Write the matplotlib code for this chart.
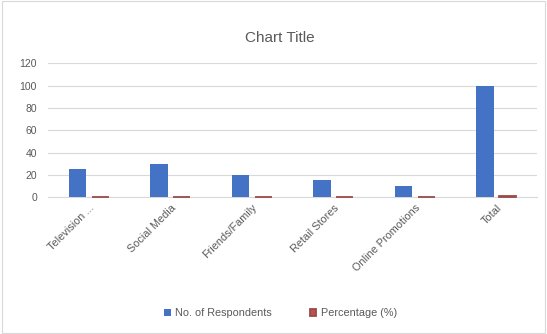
import matplotlib
matplotlib.use("Agg")
import matplotlib.pyplot as plt
import numpy as np

categories = ["Television ...", "Social Media", "Friends/Family", "Retail Stores",
              "Online Promotions", "Total"]
respondents = [25, 30, 20, 15, 10, 100]
percentage = [0.25, 0.30, 0.20, 0.15, 0.10, 1.00]
y_ticks = [0, 20, 40, 60, 80, 100, 120]

blue = "#4472C4"
red = "#C0504D"
text_gray = "#595959"

plt.rcParams["font.family"] = ["Liberation Sans", "DejaVu Sans"]

fig = plt.figure(figsize=(5.47, 3.34), dpi=100)
fig.patch.set_facecolor("white")
# thin grey frame round the chart area
fig.add_artist(plt.Rectangle((0.004, 0.004), 0.992, 0.992, transform=fig.transFigure,
                             fill=False, edgecolor="#D9D9D9", linewidth=0.8))

ax = fig.add_axes([0.088, 0.41, 0.894, 0.40])
x = np.arange(len(categories))
w = 0.21
ax.bar(x - 0.14, respondents, width=w, color=blue, label="No. of Respondents", zorder=3)
# percentages are tiny on this scale; a stroke keeps them visible as thin bars
ax.bar(x + 0.14, percentage, width=w, color=red, edgecolor="#9A4A47", linewidth=1.3,
       label="Percentage (%)", zorder=4, clip_on=False)

ax.set_xlim(-0.5, len(categories) - 0.5)
ax.set_ylim(0, 120)
ax.set_yticks(y_ticks)
ax.set_yticklabels([str(v) for v in y_ticks], color=text_gray, fontsize=7.5)
ax.yaxis.grid(True, color="#D9D9D9", linewidth=0.8, zorder=0)
ax.tick_params(axis="both", length=0, pad=8)
ax.set_xticks(x)
ax.set_xticklabels(categories, rotation=45, ha="right", rotation_mode="anchor",
                   color=text_gray, fontsize=7.8)
ax.tick_params(axis="x", pad=4)
for s in ["top", "right", "left"]:
    ax.spines[s].set_visible(False)
ax.spines["bottom"].set_color("#D9D9D9")
ax.spines["bottom"].set_linewidth(0.8)

fig.text(0.512, 0.885, "Chart Title", ha="center", va="center", fontsize=11, color=text_gray)

fig.legend(loc="center", bbox_to_anchor=(0.513, 0.063), ncol=2, frameon=False,
           fontsize=7.8, labelcolor=text_gray, handlelength=0.6, handleheight=0.6,
           columnspacing=3.5, handletextpad=0.4)

fig.savefig("out.png", dpi=100)
